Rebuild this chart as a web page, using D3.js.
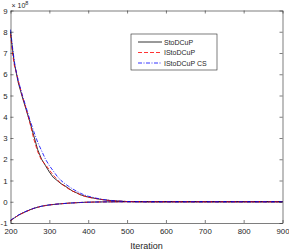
<!DOCTYPE html>
<html>
<head>
<meta charset="utf-8">
<script src="https://cdn.jsdelivr.net/npm/d3@7"></script>
<style>
	body { margin: 0; background: #fff; }
	text { font-family: "Liberation Sans", Arial, sans-serif; fill: #262626; }
</style>
</head>
<body>
<svg id="chart" width="289" height="251"></svg>
<script>
// iterations and values (x 1e8)
var iterations = [200, 205, 210, 215, 220, 230, 240, 250, 260, 270, 280, 290, 300, 310, 320, 330, 340, 350, 360, 370, 380, 390, 400, 420, 440, 460, 480, 500, 550, 600, 700, 800, 900];

var upperStoDCuP = [8.0, 7.2, 6.5, 6.05, 5.6, 4.95, 4.35, 3.75, 3.1, 2.45, 2.0, 1.7, 1.4, 1.15, 1.0, 0.85, 0.75, 0.62, 0.5, 0.42, 0.33, 0.27, 0.22, 0.15, 0.09, 0.05, 0.03, 0.01, 0, 0, 0, 0, 0];
var upperIStoDCuP = [7.9, 7.0, 6.4, 6.1, 5.7, 5.0, 4.4, 3.7, 2.95, 2.35, 1.95, 1.75, 1.5, 1.25, 1.05, 0.85, 0.72, 0.6, 0.5, 0.42, 0.33, 0.26, 0.21, 0.15, 0.09, 0.05, 0.03, 0.01, 0, 0, 0, 0, 0];
var upperIStoDCuPCS = [8.1, 7.3, 6.6, 6.1, 5.7, 5.05, 4.45, 3.85, 3.3, 2.8, 2.4, 2.0, 1.7, 1.45, 1.2, 1.0, 0.85, 0.72, 0.6, 0.5, 0.4, 0.32, 0.26, 0.17, 0.1, 0.06, 0.03, 0.01, 0, 0, 0, 0, 0];

var lowerStoDCuP = [-0.88, -0.82, -0.76, -0.7, -0.64, -0.54, -0.46, -0.38, -0.31, -0.26, -0.21, -0.18, -0.15, -0.13, -0.11, -0.095, -0.08, -0.065, -0.055, -0.045, -0.035, -0.027, -0.02, -0.012, -0.007, -0.004, -0.002, 0, 0, 0, 0, 0, 0];
var lowerIStoDCuP = [-0.9, -0.83, -0.77, -0.7, -0.63, -0.55, -0.46, -0.39, -0.31, -0.26, -0.21, -0.18, -0.15, -0.13, -0.11, -0.095, -0.08, -0.065, -0.055, -0.045, -0.035, -0.027, -0.02, -0.012, -0.007, -0.004, -0.002, 0, 0, 0, 0, 0, 0];
var lowerIStoDCuPCS = [-0.87, -0.81, -0.75, -0.69, -0.63, -0.53, -0.45, -0.37, -0.31, -0.25, -0.21, -0.17, -0.15, -0.13, -0.11, -0.095, -0.08, -0.065, -0.055, -0.045, -0.035, -0.027, -0.02, -0.012, -0.007, -0.004, -0.002, 0, 0, 0, 0, 0, 0];

var seriesNames = ['StoDCuP', 'IStoDCuP', 'IStoDCuP CS'];
var xTicks = [200, 300, 400, 500, 600, 700, 800, 900];
var yTicks = [-1, 0, 1, 2, 3, 4, 5, 6, 7, 8, 9];

initchart();

function initchart() {
	var svg = d3.select('#chart');
	var margin = {left: 10.5, top: 10.5, right: 6.5, bottom: 28};
	var width = 289 - margin.left - margin.right;
	var height = 251 - margin.top - margin.bottom;

	var x = d3.scaleLinear().domain([200, 900]).range([0, width]);
	var y = d3.scaleLinear().domain([-1, 9]).range([height, 0]);

	var g = svg.append('g')
		.attr('transform', `translate(${margin.left}, ${margin.top})`);

	var styles = [
		{color: '#000000', dash: null},
		{color: '#ff0000', dash: '4,2'},
		{color: '#0000ff', dash: '4,1.5,1,1.5'}
	];
	var upper = [upperStoDCuP, upperIStoDCuP, upperIStoDCuPCS];
	var lower = [lowerStoDCuP, lowerIStoDCuP, lowerIStoDCuPCS];

	var line = d3.line()
		.x(function(d, i) { return x(iterations[i]); })
		.y(function(d) { return y(d); });

	var lines = g.append('g');
	[lower, upper].forEach(function(group) {
		group.forEach(function(vals, k) {
			lines.append('path')
				.attr('d', line(vals))
				.attr('fill', 'none')
				.attr('stroke', styles[k].color)
				.attr('stroke-width', 0.8)
				.attr('stroke-dasharray', styles[k].dash);
		});
	});

	// axes, matlab style: inner ticks on all four sides
	var tick = 3;
	g.append('g')
		.attr('transform', `translate(0, ${height})`)
		.call(d3.axisBottom(x).tickValues(xTicks).tickSizeInner(-tick).tickSizeOuter(0).tickPadding(5));
	g.append('g')
		.call(d3.axisTop(x).tickValues(xTicks).tickSizeInner(-tick).tickSizeOuter(0).tickFormat(''));
	g.append('g')
		.call(d3.axisLeft(y).tickValues(yTicks).tickSizeInner(-tick).tickSizeOuter(0).tickPadding(3)
			.tickFormat(function(d) { return String(d); }));  // plain hyphen, like matlab
	g.append('g')
		.attr('transform', `translate(${width}, 0)`)
		.call(d3.axisRight(y).tickValues(yTicks).tickSizeInner(-tick).tickSizeOuter(0).tickFormat(''));

	g.selectAll('.domain, .tick line')
		.attr('stroke', '#262626')
		.attr('stroke-width', 0.6);
	g.selectAll('.tick text')
		.attr('font-size', 7.8)
		.attr('font-family', null)
		.attr('fill', '#262626');

	// exponent label
	var expo = g.append('text')
		.attr('x', 1)
		.attr('y', -3)
		.attr('font-size', 7)
		.attr('fill', '#555');
	expo.append('tspan').text('\u00d7 10');
	expo.append('tspan').attr('dy', -3).attr('font-size', 5.5).text('8');

	svg.append('text')
		.attr('x', margin.left + width / 2)
		.attr('y', 249)
		.attr('text-anchor', 'middle')
		.attr('font-size', 9)
		.text('Iteration');

	// legend
	var leg = svg.append('g').attr('transform', 'translate(131, 34)');
	leg.append('rect')
		.attr('width', 86)
		.attr('height', 36)
		.attr('fill', '#fff')
		.attr('stroke', '#262626')
		.attr('stroke-width', 0.6);
	seriesNames.forEach(function(name, k) {
		var ly = 8 + k * 10.5;
		leg.append('line')
			.attr('x1', 7).attr('x2', 31)
			.attr('y1', ly).attr('y2', ly)
			.attr('stroke', styles[k].color)
			.attr('stroke-width', 0.8)
			.attr('stroke-dasharray', styles[k].dash);
		leg.append('text')
			.attr('x', 33)
			.attr('y', ly + 2.5)
			.attr('font-size', 7)
			.text(name);
	});
}
</script>
</body>
</html>
